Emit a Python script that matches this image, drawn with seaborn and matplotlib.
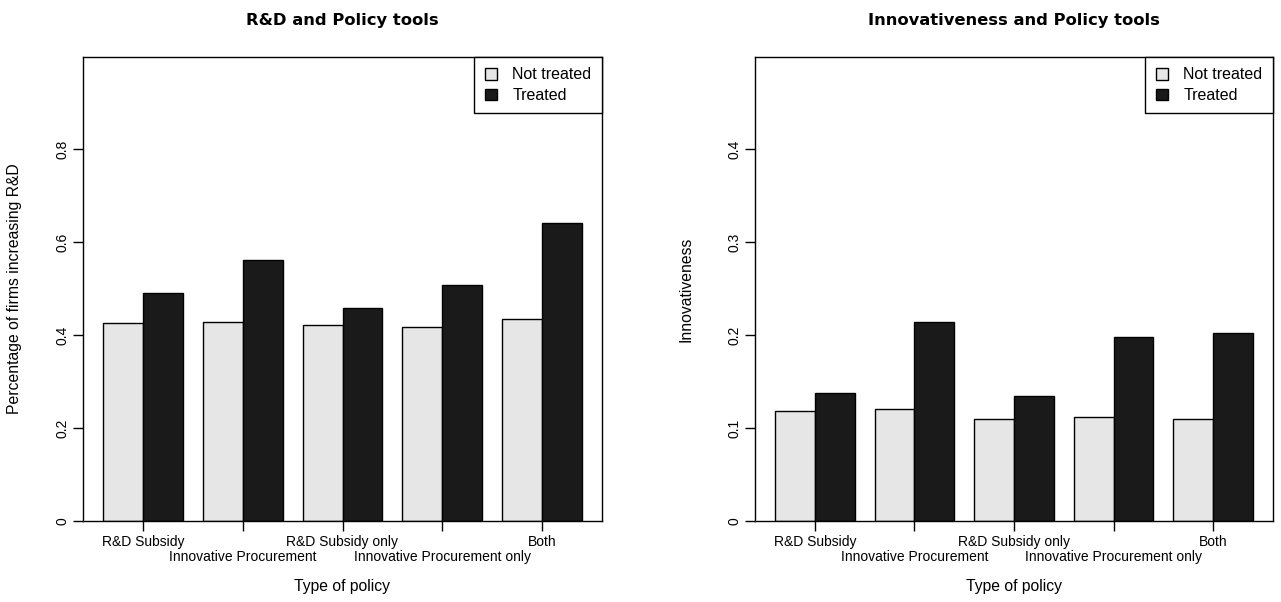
import pandas as pd
import matplotlib.pyplot as plt
import seaborn as sns

# categories and values
policies = ['R&D Subsidy', 'Innovative Procurement', 'R&D Subsidy only',
            'Innovative Procurement only', 'Both']
groups = ['Not treated', 'Treated']

rd_not_treated = [0.426, 0.429, 0.421, 0.418, 0.435]
rd_treated = [0.490, 0.562, 0.458, 0.507, 0.642]

inno_not_treated = [0.118, 0.120, 0.110, 0.112, 0.110]
inno_treated = [0.138, 0.214, 0.134, 0.198, 0.202]

left_ticks = [0, 0.2, 0.4, 0.6, 0.8]
left_ticklabels = ['0', '0.2', '0.4', '0.6', '0.8']
right_ticks = [0, 0.1, 0.2, 0.3, 0.4]
right_ticklabels = ['0', '0.1', '0.2', '0.3', '0.4']


def long_frame(not_treated, treated):
    rows = []
    for p, a, b in zip(policies, not_treated, treated):
        rows.append({'policy': p, 'group': groups[0], 'value': a})
        rows.append({'policy': p, 'group': groups[1], 'value': b})
    return pd.DataFrame(rows)


sns.set_style('white')
plt.rcParams['font.family'] = ['Liberation Sans', 'DejaVu Sans']
plt.rcParams['text.color'] = 'black'
plt.rcParams['axes.labelcolor'] = 'black'
plt.rcParams['xtick.color'] = 'black'
plt.rcParams['ytick.color'] = 'black'

fig = plt.figure(figsize=(12.81, 6.02), dpi=100)
ax1 = fig.add_axes([83 / 1281, 81 / 602, 519 / 1281, 464 / 602])
ax2 = fig.add_axes([755 / 1281, 81 / 602, 518 / 1281, 464 / 602])

palette = {'Not treated': '#e6e6e6', 'Treated': '#1a1a1a'}


def draw(ax, df, ymax, ticks, ticklabels, title, ylabel):
    sns.barplot(data=df, x='policy', y='value', hue='group', order=policies,
                hue_order=groups, palette=palette, edgecolor='black',
                linewidth=1, saturation=1, width=0.8, ax=ax, errorbar=None)
    ax.set_xlim(-0.6, 4.6)
    ax.set_ylim(0, ymax)
    ax.set_yticks(ticks)
    ax.set_yticklabels(ticklabels, rotation=90, va='center', fontsize=10)
    ax.set_xticks(range(len(policies)))
    ax.set_xticklabels(policies, fontsize=10)
    ax.tick_params(axis='both', direction='out', length=7, width=1,
                   color='black', labelcolor='black', left=True, bottom=True,
                   pad=3)
    # staggered category labels, as in the original
    for i, t in enumerate(ax.xaxis.get_major_ticks()):
        if i % 2 == 1:
            t.set_pad(14)
    for s in ax.spines.values():
        s.set_color('black')
        s.set_linewidth(1)
    ax.set_title(title, fontsize=11.8, fontweight='bold', pad=26,
                 family='DejaVu Sans', va='center', color='black')
    ax.set_ylabel(ylabel, fontsize=11.3, labelpad=24)
    ax.set_xlabel('Type of policy', fontsize=11.3)
    ax.xaxis.set_label_coords(0.5, -0.142)
    ax.xaxis.label.set_va('center')
    leg = ax.legend(loc='upper right', borderaxespad=0, fancybox=False,
                    edgecolor='black', framealpha=1, fontsize=11.5,
                    handlelength=0.75, handleheight=0.75, handletextpad=1.0,
                    borderpad=0.65, labelspacing=0.35)
    leg.get_frame().set_linewidth(1)


draw(ax1, long_frame(rd_not_treated, rd_treated), 0.998, left_ticks,
     left_ticklabels, 'R&D and Policy tools',
     'Percentage of firms increasing R&D')
draw(ax2, long_frame(inno_not_treated, inno_treated), 0.499, right_ticks,
     right_ticklabels, 'Innovativeness and Policy tools', 'Innovativeness')

fig.savefig('out.png', dpi=100)
